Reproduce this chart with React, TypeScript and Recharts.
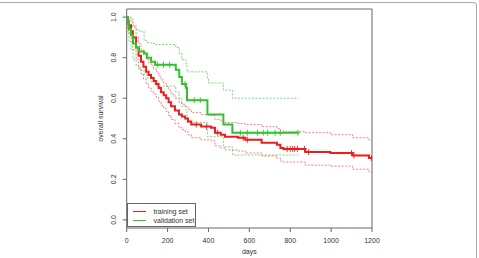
import React from 'react'
import { ComposedChart, Line, Scatter, XAxis, YAxis, ReferenceArea } from 'recharts'

// Kaplan-Meier estimates (days, survival, 95% band)
const redTimes = [0, 5, 10, 21, 30, 46, 58, 70, 82, 95, 107, 119, 132, 144, 156, 168, 181, 193, 205, 217, 236, 256, 270, 286, 300, 316, 364, 413, 432, 460, 481, 545, 580, 660, 735, 752, 767, 873, 996, 1105, 1185, 1200]
const redSurv = [1.0, 0.98, 0.96, 0.93, 0.9, 0.85, 0.81, 0.78, 0.755, 0.73, 0.715, 0.7, 0.685, 0.67, 0.65, 0.63, 0.615, 0.6, 0.58, 0.56, 0.54, 0.52, 0.51, 0.5, 0.485, 0.47, 0.46, 0.455, 0.43, 0.42, 0.41, 0.405, 0.395, 0.38, 0.37, 0.355, 0.35, 0.335, 0.33, 0.318, 0.305, 0.305]
const redUpper = [1.0, 1.0, 1.0, 0.99, 0.95, 0.9, 0.87, 0.84, 0.815, 0.79, 0.775, 0.76, 0.745, 0.73, 0.71, 0.69, 0.675, 0.66, 0.64, 0.62, 0.6, 0.58, 0.57, 0.56, 0.545, 0.53, 0.52, 0.515, 0.495, 0.485, 0.48, 0.475, 0.47, 0.46, 0.45, 0.44, 0.435, 0.43, 0.42, 0.405, 0.395, 0.395]
const redLower = [1.0, 0.94, 0.92, 0.88, 0.84, 0.79, 0.75, 0.72, 0.695, 0.67, 0.65, 0.635, 0.62, 0.605, 0.585, 0.565, 0.55, 0.535, 0.515, 0.495, 0.475, 0.455, 0.445, 0.435, 0.42, 0.405, 0.395, 0.39, 0.365, 0.355, 0.345, 0.34, 0.33, 0.315, 0.305, 0.29, 0.285, 0.27, 0.265, 0.25, 0.237, 0.237]
const redCensor = [340, 390, 445, 570, 590, 785, 800, 812, 822, 835, 870, 890, 1100, 1112, 1198]

const greenTimes = [0, 6, 11, 21, 31, 46, 60, 85, 99, 119, 139, 240, 257, 270, 290, 295, 395, 400, 473, 517, 840]
const greenSurv = [1.0, 0.97, 0.94, 0.91, 0.87, 0.85, 0.83, 0.82, 0.8, 0.78, 0.765, 0.74, 0.705, 0.67, 0.65, 0.59, 0.52, 0.52, 0.47, 0.43, 0.43]
const greenUpper = [1.0, 1.0, 0.99, 0.98, 0.96, 0.94, 0.93, 0.885, 0.875, 0.87, 0.865, 0.85, 0.82, 0.79, 0.77, 0.73, 0.7, 0.675, 0.64, 0.6, 0.6]
const greenLower = [1.0, 0.93, 0.88, 0.84, 0.79, 0.76, 0.74, 0.72, 0.7, 0.68, 0.66, 0.63, 0.6, 0.56, 0.54, 0.48, 0.41, 0.41, 0.36, 0.32, 0.32]
const greenCensor = [150, 180, 210, 285, 330, 360, 556, 590, 640, 668, 690, 726, 751, 838]

const xTicks = [0, 200, 400, 600, 800, 1000, 1200]
const yTicks = [0, 0.2, 0.4, 0.6, 0.8, 1.0]

const RED = '#ee1c1c'
const GREEN = '#2ec42e'
const AXIS = '#666'
const FONT = '"Liberation Sans", Arial, sans-serif'

const series = [
    { name: 'training set', color: RED },
    { name: 'validation set', color: GREEN },
]

const toRows = (times: number[], s: number[], up: number[], lo: number[]) =>
    times.map((t, i) => ({ t, s: s[i], up: up[i], lo: lo[i] }))

// value of the step function at time t
const stepAt = (times: number[], s: number[], t: number) => {
    let v = s[0]
    for (let i = 0; i < times.length; i++) if (times[i] <= t) v = s[i]
    return v
}

const redData = toRows(redTimes, redSurv, redUpper, redLower)
const greenData = toRows(greenTimes, greenSurv, greenUpper, greenLower)
const redMarks = redCensor.map((t) => ({ t, s: stepAt(redTimes, redSurv, t) }))
const greenMarks = greenCensor.map((t) => ({ t, s: stepAt(greenTimes, greenSurv, t) }))

const plus = (color: string) => (p: any) => (
    <path d={`M${p.cx - 2.5},${p.cy}h5M${p.cx},${p.cy - 3}v6`} stroke={color} strokeWidth={0.9} fill="none" />
)

const YTick = (p: any) => (
    <text x={p.x} y={p.y} transform={`rotate(-90 ${p.x} ${p.y})`} textAnchor="middle"
        fontSize={7} fill="#333" fontFamily={FONT}>
        {Number(p.payload.value).toFixed(1)}
    </text>
)

const XTick = (p: any) => (
    <text x={p.x} y={p.y + 5} textAnchor="middle" fontSize={7} fill="#333" fontFamily={FONT}>
        {p.payload.value}
    </text>
)

export default function App() {
    const common = { type: 'stepAfter' as const, dot: false, activeDot: false, isAnimationActive: false }
    return (
        <div style={{ position: 'absolute', left: 0, top: 0, width: 479, height: 258, background: '#fff', overflow: 'hidden' }}>
            <div style={{ position: 'absolute', left: -2, top: 2, width: 478, height: 300, borderTop: '1px solid #aaa', borderRight: '1px solid #aaa', borderTopRightRadius: 4 }} />
            <ComposedChart width={479} height={258} margin={{ top: 9, right: 107, bottom: 0, left: 0 }}>
                <XAxis dataKey="t" type="number" domain={[0, 1200]} ticks={xTicks} allowDataOverflow
                    axisLine={false} tickLine={{ stroke: AXIS }} tickSize={4} tickMargin={6} height={30} tick={<XTick />}
                    label={{ content: ({ viewBox }: any) => (
                        <text x={viewBox.x + viewBox.width / 2} y={viewBox.y + 26} textAnchor="middle" fontSize={7} fill="#333" fontFamily={FONT}>days</text>
                    ) }} />
                <YAxis type="number" domain={[-0.04, 1.04]} ticks={yTicks} allowDataOverflow width={126.7}
                    axisLine={false} tickLine={{ stroke: AXIS }} tickSize={4} tickMargin={6.5} tick={<YTick />}
                    label={{ content: ({ viewBox }: any) => {
                        const x = viewBox.x + viewBox.width - 24
                        const y = viewBox.y + viewBox.height / 2
                        return <text x={x} y={y} transform={`rotate(-90 ${x} ${y})`} textAnchor="middle" fontSize={7} fill="#333" fontFamily={FONT}>overall survival</text>
                    } }} />
                <ReferenceArea x1={0} x2={1200} y1={-0.04} y2={1.04} fill="none" stroke={AXIS} strokeWidth={1} />

                <Line {...common} data={redData} dataKey="up" stroke={RED} strokeWidth={0.8} strokeDasharray="2 1.5" strokeOpacity={0.7} />
                <Line {...common} data={redData} dataKey="lo" stroke={RED} strokeWidth={0.8} strokeDasharray="2 1.5" strokeOpacity={0.7} />
                <Line {...common} data={greenData} dataKey="up" stroke={GREEN} strokeWidth={0.8} strokeDasharray="2 1.5" strokeOpacity={0.8} />
                <Line {...common} data={greenData} dataKey="lo" stroke={GREEN} strokeWidth={0.8} strokeDasharray="2 1.5" strokeOpacity={0.8} />
                <Line {...common} data={redData} dataKey="s" name={series[0].name} stroke={RED} strokeWidth={2} />
                <Line {...common} data={greenData} dataKey="s" name={series[1].name} stroke={GREEN} strokeWidth={2} />
                <Scatter data={redMarks} dataKey="s" shape={plus(RED)} isAnimationActive={false} />
                <Scatter data={greenMarks} dataKey="s" shape={plus(GREEN)} isAnimationActive={false} />
            </ComposedChart>
            <div style={{ position: 'absolute', left: 126.7, top: 203, width: 69, height: 24, border: `1px solid ${AXIS}`, background: '#fff', boxSizing: 'border-box' }}>
                <svg width={69} height={24} style={{ display: 'block' }}>
                    {series.map((s, i) => (
                        <g key={s.name}>
                            <line x1={5} x2={18} y1={7.5 + i * 9} y2={7.5 + i * 9} stroke={s.color} strokeWidth={1} />
                            <text x={25.5} y={10 + i * 9} fontSize={7} fill="#333" fontFamily={FONT}>{s.name}</text>
                        </g>
                    ))}
                </svg>
            </div>
        </div>
    )
}
